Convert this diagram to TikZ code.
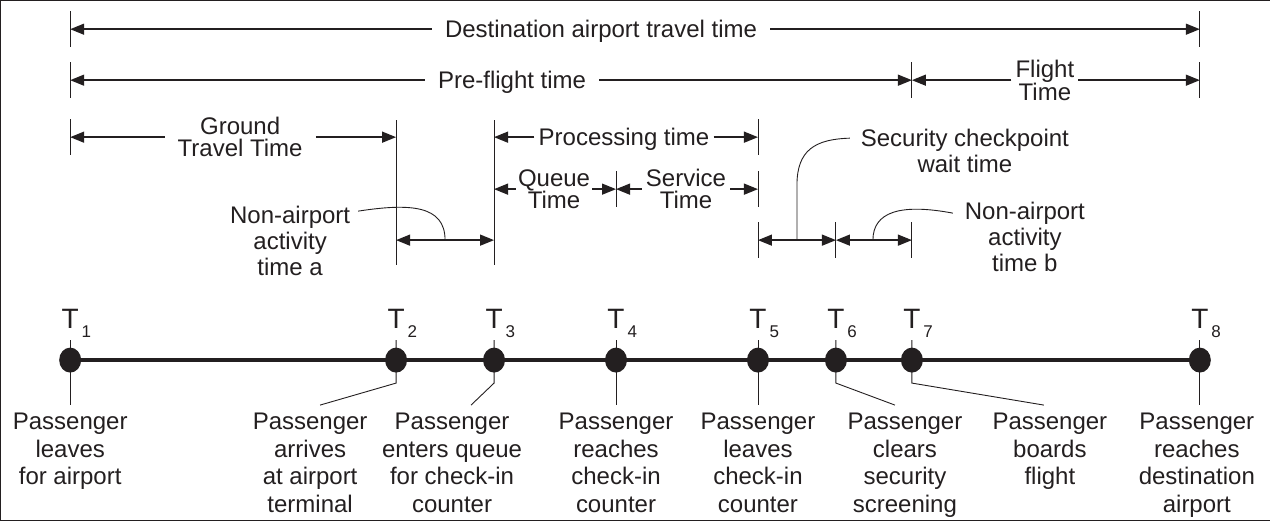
\documentclass[tikz,border=0pt]{standalone}
\usepackage{fontspec}
\setmainfont{Liberation Sans}
\usepackage{xcolor}
\usetikzlibrary{arrows.meta,positioning,shapes.geometric}

\definecolor{ink}{HTML}{231F20}
\newcommand{\tname}[1]{T\rlap{\kern3pt\raisebox{-9pt}{\fontsize{17}{17}\selectfont #1}}}

\begin{document}
\begin{tikzpicture}[
    x=1pt, y=-1pt,
    font=\fontsize{24}{27.5}\selectfont,
    every path/.style={draw=ink},
    dim/.style={-{Triangle[length=14pt,width=11pt]}, line width=1.4pt},
    dimboth/.style={{Triangle[length=14pt,width=11pt]}-{Triangle[length=14pt,width=11pt]}, line width=1.4pt},
    tick/.style={line width=0.9pt},
    lead/.style={line width=0.9pt},
    dimtext/.style={text=ink, inner xsep=4pt, inner ysep=0pt, text height=17pt, text depth=0pt},
    widetext/.style={dimtext, inner xsep=13pt},
    twoline/.style={text=ink, inner xsep=4pt, inner ysep=0pt, align=center, font=\fontsize{24}{22}\selectfont},
    note/.style={text=ink, inner sep=0pt, align=center, font=\fontsize{24}{26}\selectfont},
    dot/.style={ellipse, fill=ink, draw=none, minimum width=22pt, minimum height=25pt, inner sep=0pt},
    tlabel/.style={text=ink, anchor=base, inner sep=0pt, font=\fontsize{28}{28}\selectfont},
    plabel/.style={text=ink, anchor=north, align=center, inner sep=0pt}
]
\useasboundingbox (0,0) rectangle (1270,520);

% Destination airport travel time
\node[widetext] (dest) at (601,29) {Destination airport travel time};
\coordinate (destL) at (70,29);
\coordinate (destR) at (1200,29);
\draw[dim] (dest) -- (destL);
\draw[dim] (dest) -- (destR);
\draw[tick] (70,11) -- (70,47);
\draw[tick] (1200,11) -- (1200,47);

% Pre-flight and flight time
\node[widetext] (pre) at (512,80) {Pre-flight time};
\node[twoline] (flight) at (1045,80) {Flight\\Time};
\coordinate (preL) at (70,80);
\coordinate (board) at (912,80);
\coordinate (flightR) at (1200,80);
\draw[dim] (pre) -- (preL);
\draw[dim] (pre) -- (board);
\draw[dim] (flight) -- (board);
\draw[dim] (flight) -- (flightR);
\draw[tick] (70,62) -- (70,98);
\draw[tick] (912,62) -- (912,98);
\draw[tick] (1200,62) -- (1200,98);

% Ground travel time and processing time
\node[twoline, inner xsep=13pt] (ground) at (240,137) {Ground\\Travel Time};
\node[dimtext] (proc) at (624,137) {Processing time};
\coordinate (groundL) at (70,137);
\coordinate (groundR) at (396,137);
\coordinate (procL) at (494,137);
\coordinate (procR) at (758,137);
\draw[dim] (ground) -- (groundL);
\draw[dim] (ground) -- (groundR);
\draw[dim] (proc) -- (procL);
\draw[dim] (proc) -- (procR);
\draw[tick] (70,119) -- (70,155);
\draw[tick] (758,119) -- (758,155);
\draw[tick] (396,120) -- (396,265);
\draw[tick] (494,120) -- (494,265);

% Queue time and service time
\node[twoline, inner xsep=2pt] (queue) at (554,189) {Queue\\Time};
\node[twoline, inner xsep=4pt] (service) at (686,189) {Service\\Time};
\coordinate (queueL) at (494,189);
\coordinate (counter) at (616,189);
\coordinate (serviceR) at (758,189);
\draw[dim] (queue) -- (queueL);
\draw[dim] (queue) -- (counter);
\draw[dim] (service) -- (counter);
\draw[dim] (service) -- (serviceR);
\draw[tick] (616,171) -- (616,207);
\draw[tick] (758,171) -- (758,207);

% Non-airport activity time a
\coordinate (naL) at (396,240);
\coordinate (naR) at (494,240);
\draw[dimboth] (naL) -- (naR);
\node[note] (notea) at (290,241) {Non-airport\\activity\\time a};
\draw[lead] (358,211) .. controls (410,203) and (445,205) .. (445,240);

% Security checkpoint wait time and non-airport activity time b
\coordinate (secL) at (758,240);
\coordinate (secR) at (836,240);
\coordinate (nbR) at (912,240);
\draw[dimboth] (secL) -- (secR);
\draw[dimboth] (secR) -- (nbR);
\draw[tick] (758,222) -- (758,258);
\draw[tick] (836,222) -- (836,258);
\draw[tick] (912,222) -- (912,258);
\node[note] (notesec) at (965,151) {Security checkpoint\\wait time};
\node[note] (noteb) at (1025,237) {Non-airport\\activity\\time b};
\draw[lead] (797,240) -- (797,185) .. controls (797,150) and (815,139) .. (850,138);
\draw[lead] (873,240) .. controls (873,212) and (900,203) .. (953,213);

% Timeline
\node[dot] (T1) at (70,360) {};
\node[dot] (T2) at (396,360) {};
\node[dot] (T3) at (494,360) {};
\node[dot] (T4) at (616,360) {};
\node[dot] (T5) at (758,360) {};
\node[dot] (T6) at (836,360) {};
\node[dot] (T7) at (912,360) {};
\node[dot] (T8) at (1200,360) {};
\draw[line width=4pt] (T1) -- (T8);

\foreach \i/\x in {1/70,2/396,3/494,4/616,5/758,6/836,7/912,8/1200}
  \node[tlabel] (tl\i) at (\x,328) {\tname{\i}};

% Event labels
\node[plabel] (p1) at (70,413) {Passenger\\leaves\\for airport};
\node[plabel] (p2) at (310,413) {Passenger\\arrives\\at airport\\terminal};
\node[plabel] (p3) at (452,413) {Passenger\\enters queue\\for check-in\\counter};
\node[plabel] (p4) at (616,413) {Passenger\\reaches\\check-in\\counter};
\node[plabel] (p5) at (758,413) {Passenger\\leaves\\check-in\\counter};
\node[plabel] (p6) at (905,413) {Passenger\\clears\\security\\screening};
\node[plabel] (p7) at (1050,413) {Passenger\\boards\\flight};
\node[plabel] (p8) at (1197,413) {Passenger\\reaches\\destination\\airport};

\foreach \i in {1,4,5,8}
  \draw[lead] ([yshift=20pt]T\i.center) -- ([yshift=-45pt]T\i.center);
\draw[lead] ([yshift=20pt]T2.center) -- ([yshift=-23pt]T2.center) -- ([xshift=10pt,yshift=8pt]p2.north);
\draw[lead] ([yshift=20pt]T3.center) -- ([yshift=-23pt]T3.center) -- ([xshift=19pt,yshift=8pt]p3.north);
\draw[lead] ([yshift=20pt]T6.center) -- ([yshift=-23pt]T6.center) -- ([xshift=-10pt,yshift=8pt]p6.north);
\draw[lead] ([yshift=20pt]T7.center) -- ([yshift=-23pt]T7.center) -- ([xshift=-6pt,yshift=8pt]p7.north);

\end{tikzpicture}
\end{document}
